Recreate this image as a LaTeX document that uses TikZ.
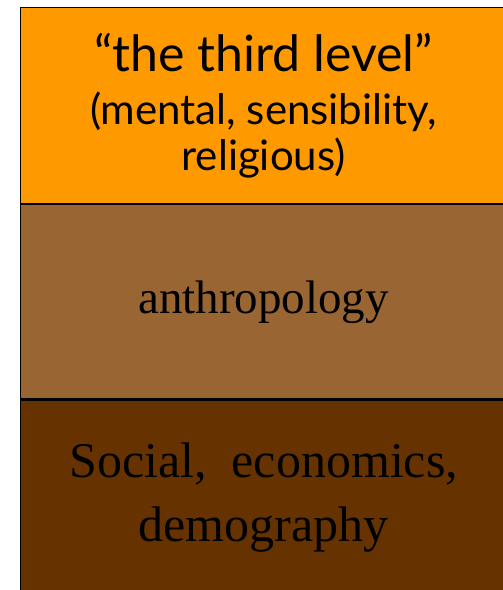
\documentclass[tikz,border=0pt]{standalone}
\usepackage{fontspec}
\setmainfont{Liberation Serif}
\newfontfamily\levelfont{Lato}
\usetikzlibrary{positioning}
\definecolor{levelorange}{HTML}{FF9900}
\definecolor{levelbrown}{HTML}{996633}
\definecolor{leveldark}{HTML}{663300}

\begin{document}
\begin{tikzpicture}[
			x=1pt, y=1pt,
			node distance=0pt,
			layer/.style={
				rectangle, draw=black, line width=1.2pt,
				align=center, inner sep=0pt,
				minimum width=486pt, minimum height=196pt
			}
			]
			
			\useasboundingbox (0,0) rectangle (503,-590);
			\clip (0,0) rectangle (503,-590);
			
			\node[layer, fill=levelorange, anchor=north west,
				font=\levelfont\fontsize{42}{44}\selectfont] (third) at (20,-7)
				{{\fontsize{50}{50}\selectfont “the third level”}\\[9pt](mental, sensibility,\\[2pt]religious)};
			\node[layer, fill=levelbrown, below=of third, minimum height=194pt,
				font=\fontsize{47}{50}\selectfont] (anthro) {anthropology};
			\node[layer, fill=leveldark, below=of anthro, minimum height=204pt,
				font=\fontsize{50}{64}\selectfont] (social) {Social,\ \ economics,\\demography\strut};
		\end{tikzpicture}
\end{document}
